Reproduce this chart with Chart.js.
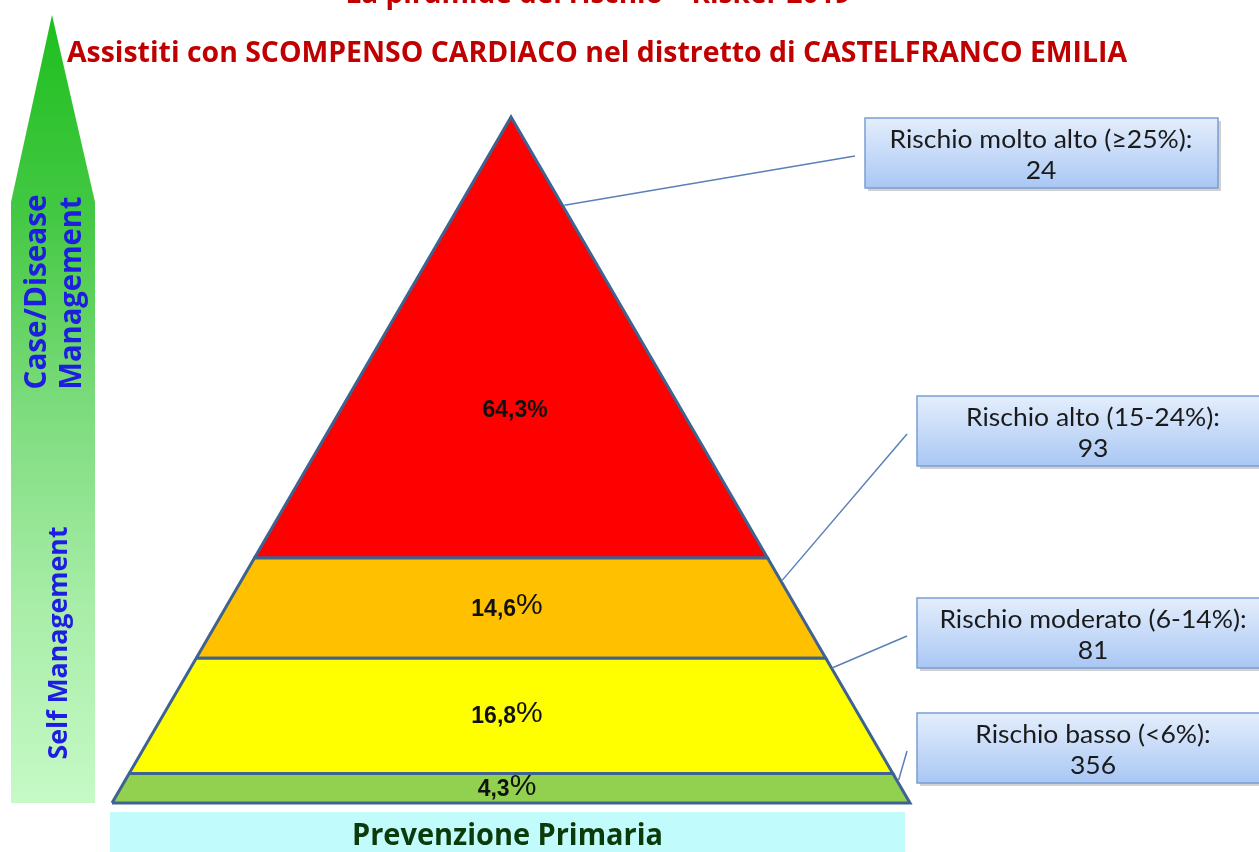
<!DOCTYPE html>
<html><head><meta charset="utf-8">
<script src="https://cdn.jsdelivr.net/npm/chart.js@4.4.0/dist/chart.umd.min.js"></script>
<style>html,body{margin:0;padding:0;background:#fff;overflow:hidden}#wrap{width:1259px;height:852px;position:relative}</style>
</head><body><div id="wrap"><canvas id="c" width="1259" height="852"></canvas></div>
<script>
const titleLines = ['La piramide del rischio – Risker 2019', 'Assistiti con SCOMPENSO CARDIACO nel distretto di CASTELFRANCO EMILIA'];
const categories = ['Rischio basso (<6%)', 'Rischio moderato (6-14%)', 'Rischio alto (15-24%)', 'Rischio molto alto (≥25%)'];
const percentages = [4.3, 16.8, 14.6, 64.3];
const percentLabels = ['4,3', '16,8', '14,6', '64,3'];
const counts = [356, 81, 93, 24];
const bandColors = ['#92d050', '#ffff00', '#ffc000', '#ff0000'];
const arrowLabels = ['Case/Disease', 'Management', 'Self Management'];
const baseLabel = 'Prevenzione Primaria';

// cumulative band limits
const cum = []; let acc = 0;
percentages.forEach(p => { cum.push([acc, acc + p]); acc += p; });
const total = acc;
const halfW = y => 50 * (1 - y / total);
const bandPolys = cum.map(([a, b]) => [
  {x: -halfW(a), y: a}, {x: halfW(a), y: a}, {x: halfW(b), y: b}, {x: -halfW(b), y: b}, {x: -halfW(a), y: a}
]);

function drawScaled(ctx, text, cx, y, font, targetW, fixedScale) {
  ctx.font = font;
  const w = ctx.measureText(text).width;
  const s = fixedScale ? fixedScale : (targetW ? targetW / w : 1);
  ctx.save(); ctx.translate(cx, y); ctx.scale(s, 1);
  ctx.textAlign = 'center'; ctx.fillText(text, 0, 0); ctx.restore();
}

const decor = {
  id: 'decor',
  beforeDatasetsDraw(chart) {
    const ctx = chart.ctx;
    const xs = chart.scales.x, ys = chart.scales.y;
    ctx.save();
    // titles
    ctx.fillStyle = '#c00000'; ctx.textBaseline = 'alphabetic';
    drawScaled(ctx, titleLines[0], 598, 3, 'bold 29px "Open Sans"', 505);
    drawScaled(ctx, titleLines[1], 597, 62, 'bold 29px "Open Sans"', 1060);
    // left arrow
    const g = ctx.createLinearGradient(0, 15, 0, 803);
    g.addColorStop(0, '#1ebf1e'); g.addColorStop(0.25, '#43c843');
    g.addColorStop(0.5, '#7ddc7d'); g.addColorStop(0.75, '#a8eda8'); g.addColorStop(1, '#c6f9c6');
    ctx.fillStyle = g;
    ctx.beginPath(); ctx.moveTo(52, 15); ctx.lineTo(95, 202); ctx.lineTo(95, 803);
    ctx.lineTo(11, 803); ctx.lineTo(11, 202); ctx.closePath(); ctx.fill();
    ctx.fillStyle = '#1e1ee0';
    const rot = (t, x, y, font, w) => { ctx.save(); ctx.translate(x, y); ctx.rotate(-Math.PI / 2); drawScaled(ctx, t, 0, 0, font, w); ctx.restore(); };
    rot(arrowLabels[0], 46, 292, 'bold 31px "Open Sans"', 195);
    rot(arrowLabels[1], 81, 293, 'bold 31px "Open Sans"', 193);
    rot(arrowLabels[2], 67, 643, 'bold 26px "Open Sans"', 233);
    // base box
    const bx0 = xs.getPixelForValue(-50) - 2, bx1 = xs.getPixelForValue(50) - 5;
    const by0 = ys.getPixelForValue(0) + 9;
    ctx.fillStyle = '#c2fbfb';
    ctx.fillRect(bx0, by0, bx1 - bx0, 852 - by0);
    ctx.fillStyle = '#0b3a0b';
    drawScaled(ctx, baseLabel, (bx0 + bx1) / 2, by0 + 33, 'bold 30px "Open Sans"', 311);
    ctx.restore();
  },
  afterDatasetsDraw(chart) {
    const ctx = chart.ctx;
    const xs = chart.scales.x, ys = chart.scales.y;
    ctx.save();
    // percent labels
    cum.forEach(([a, b], i) => {
      const isTop = i === cum.length - 1;
      const yv = isTop ? a + (b - a) / 3 : (a + b) / 2;
      const py = ys.getPixelForValue(yv);
      const px = xs.getPixelForValue(0);
      ctx.fillStyle = '#111'; ctx.textBaseline = 'middle';
      if (isTop) {
        ctx.font = 'bold 23px "Liberation Sans"'; ctx.textAlign = 'center';
        ctx.fillText(percentLabels[i] + '%', px + 4, py);
      } else {
        ctx.font = 'bold 23px "Liberation Sans"';
        const w1 = ctx.measureText(percentLabels[i]).width;
        ctx.font = '30px "Liberation Sans"';
        const w2 = ctx.measureText('%').width;
        const x0 = px - 4 - (w1 + w2) / 2;
        ctx.textAlign = 'left';
        ctx.font = 'bold 23px "Liberation Sans"'; ctx.fillText(percentLabels[i], x0, py + 1);
        ctx.font = '30px "Liberation Sans"'; ctx.fillText('%', x0 + w1, py - 2);
      }
    });
    // callouts
    const boxes = [{x: 917, y: 713}, {x: 917, y: 598}, {x: 917, y: 396}, {x: 865, y: 118}];
    const leadFrac = [0.78, 0.92, 0.78, 0.8];
    const bw = 353, bh = 70;
    cum.forEach(([a, b], i) => {
      const bxy = boxes[i];
      const yv = a + (b - a) * leadFrac[i];
      const sx = xs.getPixelForValue(halfW(yv)) + 2, sy = ys.getPixelForValue(yv);
      ctx.strokeStyle = '#5a80b8'; ctx.lineWidth = 1.5;
      ctx.beginPath(); ctx.moveTo(sx, sy); ctx.lineTo(bxy.x - 10, bxy.y + bh / 2 + 3); ctx.stroke();
      // shadow
      ctx.fillStyle = 'rgba(0,0,0,0.18)';
      ctx.fillRect(bxy.x + 3, bxy.y + 3, bw, bh);
      const g = ctx.createLinearGradient(0, bxy.y, 0, bxy.y + bh);
      g.addColorStop(0, '#e4eefc'); g.addColorStop(1, '#a9c7f4');
      ctx.fillStyle = g; ctx.fillRect(bxy.x, bxy.y, bw, bh);
      ctx.strokeStyle = '#7b9ed3'; ctx.lineWidth = 1.5; ctx.strokeRect(bxy.x, bxy.y, bw, bh);
      ctx.fillStyle = '#1a1a1a'; ctx.textBaseline = 'middle';
      const cx = bxy.x + 176;
      drawScaled(ctx, categories[i] + ':', cx, bxy.y + 22, '25px Lato', null, 1.06);
      drawScaled(ctx, String(counts[i]), cx, bxy.y + 53, '25px Lato', null, 1.06);
    });
    ctx.restore();
  }
};

new Chart(document.getElementById('c'), {
  type: 'scatter',
  data: {
    datasets: bandPolys.map((pts, i) => ({
      label: categories[i],
      data: pts,
      showLine: true,
      fill: 'shape',
      backgroundColor: bandColors[i],
      borderColor: '#3f6391',
      borderWidth: 3,
      pointRadius: 0,
      tension: 0
    }))
  },
  options: {
    responsive: false,
    animation: false,
    layout: {padding: 0},
    plugins: {legend: {display: false}, tooltip: {enabled: false}},
    scales: {
      x: {type: 'linear', min: -64.035, max: 93.73, display: false},
      y: {type: 'linear', min: -7.143, max: 117.055, display: false}
    }
  },
  plugins: [decor]
});
</script>
</body></html>
